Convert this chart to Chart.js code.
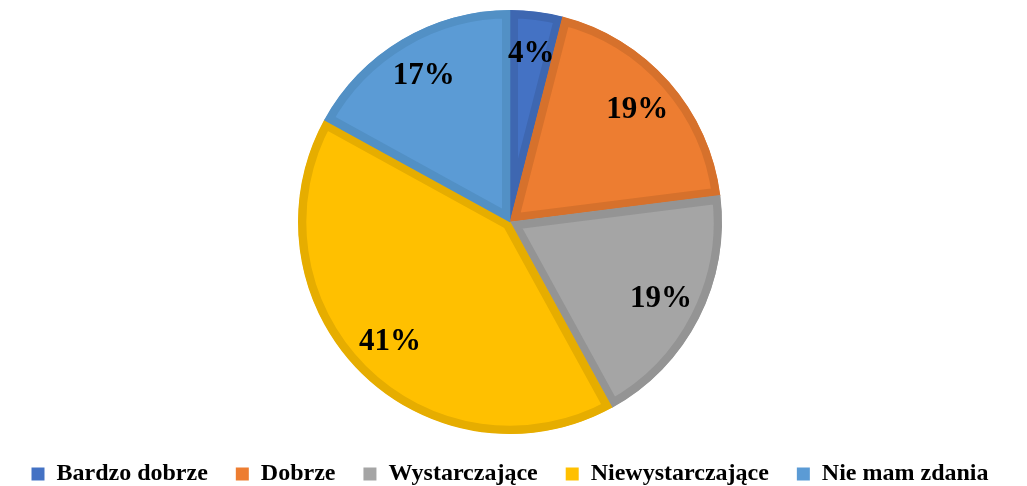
<!DOCTYPE html>
<html>
<head>
<meta charset="utf-8">
<script src="https://cdn.jsdelivr.net/npm/chart.js@4"></script>
<style>
  html, body { margin: 0; padding: 0; background: #fff; }
  #wrap { width: 1027px; height: 486px; }
</style>
</head>
<body>
<div id="wrap"><canvas id="chartRating"></canvas></div>
<script>
var categories = ['Bardzo dobrze', 'Dobrze', 'Wystarczające', 'Niewystarczające', 'Nie mam zdania'];
var percent_values = [4, 19, 19, 41, 17];
var fill_colors = ['#4472C4', '#ED7D31', '#A5A5A5', '#FFC000', '#5B9BD5'];
var border_colors = ['#3E67B1', '#D6712C', '#949494', '#E6AD00', '#5290C5'];

const serif = '"Liberation Serif", "Times New Roman", serif';

// etykiety procentowe na wycinkach
const pieLabels = {
  id: 'pieLabels',
  afterDatasetsDraw(chart) {
    const ctx = chart.ctx;
    const meta = chart.getDatasetMeta(0);
    ctx.save();
    ctx.font = 'bold 31px ' + serif;
    ctx.fillStyle = '#000';
    ctx.textAlign = 'center';
    ctx.textBaseline = 'middle';
    meta.data.forEach((arc, i) => {
      const p = arc.getProps(['x', 'y', 'startAngle', 'endAngle', 'outerRadius'], true);
      const mid = (p.startAngle + p.endAngle) / 2;
      const r = p.outerRadius * 0.8;
      ctx.fillText(percent_values[i] + '%', p.x + Math.cos(mid) * r, p.y + Math.sin(mid) * r);
    });
    ctx.restore();
  }
};

const cmc = document.getElementById('chartRating');

new Chart(cmc, {
  type: 'pie',
  plugins: [pieLabels],
  data: {
    labels: categories,
    datasets: [
      {
        data: percent_values,
        backgroundColor: fill_colors,
        borderColor: border_colors,
        borderWidth: 8,
        borderAlign: 'inner',
      },
    ],
  },
  options: {
    responsive: true,
    maintainAspectRatio: false,
    animation: false,
    layout: { padding: { top: 10, right: 7, bottom: -10 } },
    plugins: {
      tooltip: { enabled: false },
      legend: {
        display: true,
        position: 'bottom',
        labels: {
          boxWidth: 13,
          boxHeight: 13,
          padding: 28,
          color: '#000',
          font: { family: serif, size: 24, weight: 'bold' },
          generateLabels: (chart) =>
            categories.map((label, i) => ({
              text: label,
              fillStyle: fill_colors[i],
              strokeStyle: fill_colors[i],
              lineWidth: 0,
              fontColor: '#000',
              hidden: false,
              index: i,
            })),
        },
      },
    },
  },
});
</script>
</body>
</html>
